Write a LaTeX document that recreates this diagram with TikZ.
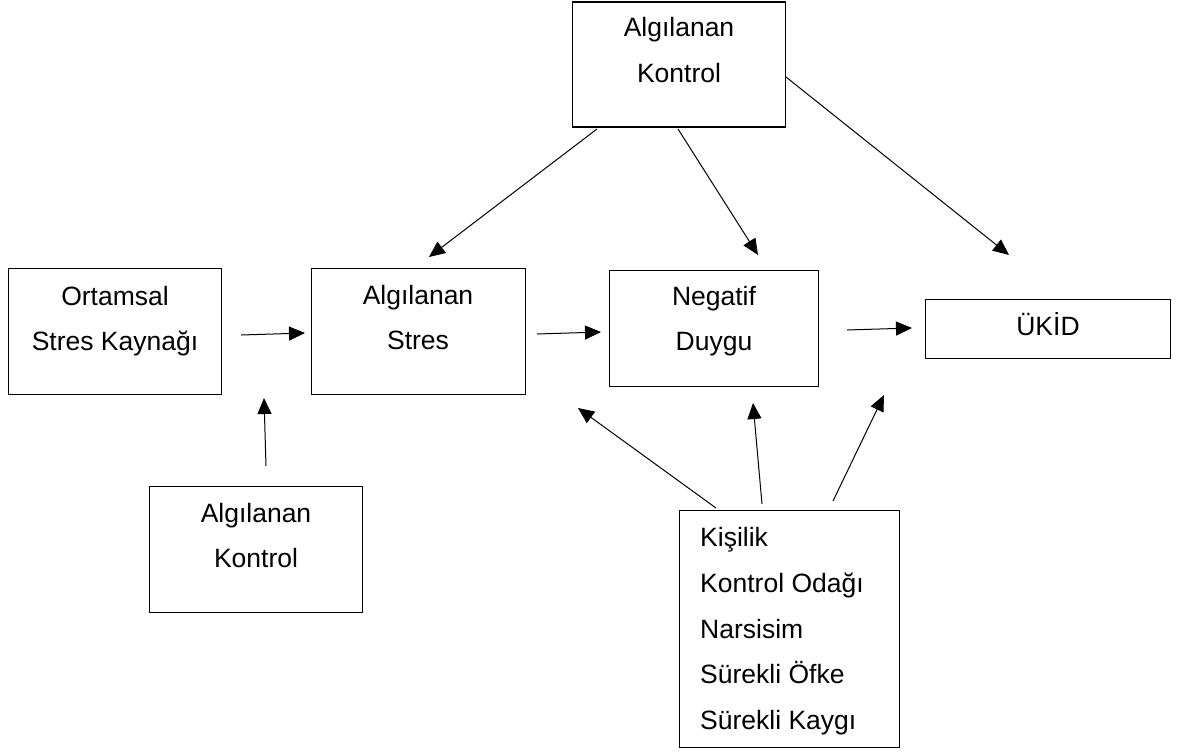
\documentclass[tikz,border=0pt]{standalone}
\usepackage{fontspec}
\setmainfont{Liberation Sans}
\usetikzlibrary{arrows.meta}

\tikzset{
  box/.style={draw, line width=1.7pt, inner sep=0pt},
  label text/.style={font=\fontsize{26.5}{46}\selectfont, inner sep=0pt, anchor=base},
  link/.style={line width=1pt, -{Triangle[length=16pt,width=14pt]}},
}

\begin{document}
\begin{tikzpicture}[x=1pt, y=-1pt]
  \useasboundingbox (0,0) rectangle (1181,752);

  % boxes
  \node[box, minimum width=213pt, minimum height=125pt] (ctlTop) at (679,64.5) {};
  \node[box, minimum width=213pt, minimum height=126pt] (src)    at (115,331.5) {};
  \node[box, minimum width=214pt, minimum height=126pt] (stress) at (418.5,331.5) {};
  \node[box, minimum width=209pt, minimum height=116pt] (neg)    at (714,328.5) {};
  \node[box, minimum width=245pt, minimum height=59pt]  (ukid)   at (1048,329) {};
  \node[box, minimum width=213pt, minimum height=126pt] (ctlBot) at (256,549.5) {};
  \node[box, minimum width=220pt, minimum height=237pt] (pers)   at (789.5,629) {};

  % labels
  \node[label text] (ctlTopA) at (679,37)  {Algılanan};
  \node[label text] (ctlTopB) at (679,83)  {Kontrol};
  \node[label text] (srcA)    at (115,305) {Ortamsal};
  \node[label text] (srcB)    at (115,350) {Stres Kaynağı};
  \node[label text] (stressA) at (418,304) {Algılanan};
  \node[label text] (stressB) at (418,349) {Stres};
  \node[label text] (negA)    at (714,305) {Negatif};
  \node[label text] (negB)    at (714,350) {Duygu};
  \node[label text] (ukidA)   at (1048,335) {ÜKİD};
  \node[label text] (ctlBotA) at (256,522) {Algılanan};
  \node[label text] (ctlBotB) at (256,567) {Kontrol};
  \node[label text, anchor=base west] (persA) at (700,546) {Kişilik};
  \node[label text, anchor=base west] (persB) at (700,592) {Kontrol Odağı};
  \node[label text, anchor=base west] (persC) at (700,638) {Narsisim};
  \node[label text, anchor=base west] (persD) at (700,683) {Sürekli Öfke};
  \node[label text, anchor=base west] (persE) at (700,729) {Sürekli Kaygı};

  % free arrow ends
  \coordinate (srcOut)    at (241,335);
  \coordinate (stressIn)  at (305,333);
  \coordinate (stressOut) at (537,334);
  \coordinate (negIn)     at (601,332);
  \coordinate (negOut)    at (847,330);
  \coordinate (ukidIn)    at (912,328);
  \coordinate (ctlBotOut) at (266,466);
  \coordinate (srcBelow)  at (264,398);
  \coordinate (topOutL)   at (597,129);
  \coordinate (stressTop) at (429,257);
  \coordinate (topOutM)   at (678,129);
  \coordinate (negTop)    at (758,255);
  \coordinate (topOutR)   at (786,77);
  \coordinate (ukidTop)   at (1009,255);
  \coordinate (persOutL)  at (716,508);
  \coordinate (stressLow) at (578,408);
  \coordinate (persOutM)  at (762,504);
  \coordinate (negLow)    at (753,403);
  \coordinate (persOutR)  at (833,501);
  \coordinate (ukidLow)   at (884,395);

  % connectors
  \draw[link] (srcOut) -- (stressIn);
  \draw[link] (stressOut) -- (negIn);
  \draw[link] (negOut) -- (ukidIn);
  \draw[link] (ctlBotOut) -- (srcBelow);
  \draw[link] (topOutL) -- (stressTop);
  \draw[link] (topOutM) -- (negTop);
  \draw[link] (topOutR) -- (ukidTop);
  \draw[link] (persOutL) -- (stressLow);
  \draw[link] (persOutM) -- (negLow);
  \draw[link] (persOutR) -- (ukidLow);
\end{tikzpicture}
\end{document}
